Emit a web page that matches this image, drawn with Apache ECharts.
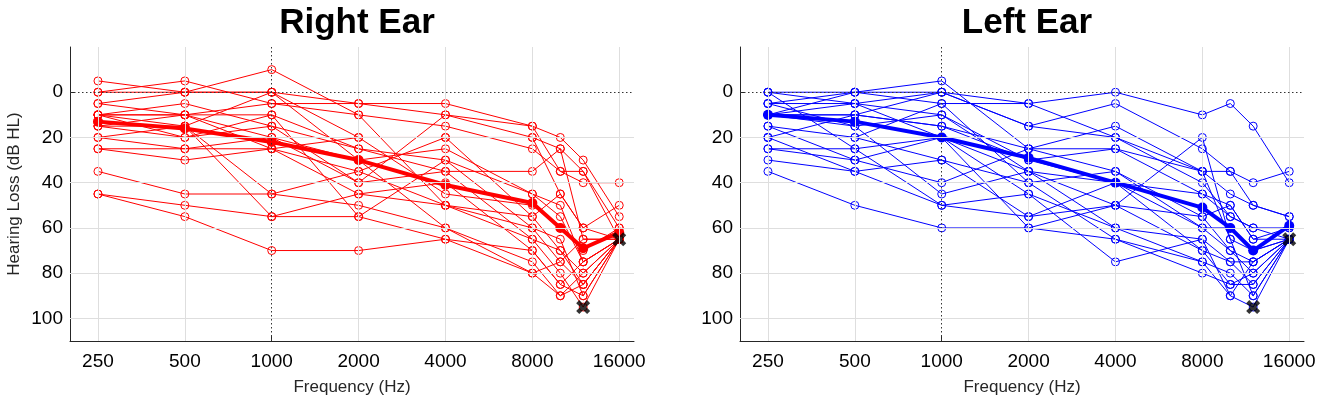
<!DOCTYPE html>
<html>
<head>
<meta charset="utf-8">
<script src="https://cdn.jsdelivr.net/npm/echarts@6/dist/echarts.min.js"></script>
<style>
  html, body { margin: 0; padding: 0; background: #fff; }
  #chart { width: 1325px; height: 405px; }
</style>
</head>
<body>
<div id="chart"></div>
<script>
// test frequencies (Hz) and the octave ticks shown on the axis
var freqs = [250, 500, 1000, 2000, 4000, 8000, 10000, 12000, 16000]
var tickFreqs = [250, 500, 1000, 2000, 4000, 8000, 16000]
var yTicks = [0, 20, 40, 60, 80, 100]

// one row per subject, thresholds in dB HL at each frequency
var rightEar = [
    [-5, 0, 0, 5, 5, 15, 20, 30, 55],
    [0, -5, 5, 5, 10, 20, 25, 35, 60],
    [0, 0, -10, 10, 15, 25, 35, 40, 40],
    [5, 0, 0, 20, 20, 20, 45, 60, 50],
    [10, 10, 10, 25, 35, 35, 25, 65, 65],
    [10, 20, 15, 25, 30, 45, 55, 75, 65],
    [15, 15, 45, 35, 50, 55, 70, 85, 65],
    [10, 15, 55, 45, 50, 60, 65, 90, 65],
    [15, 10, 20, 30, 25, 45, 50, 75, 65],
    [20, 25, 20, 40, 35, 65, 80, 95, 65],
    [25, 30, 25, 45, 40, 70, 85, 90, 65],
    [25, 25, 25, 20, 45, 50, 60, 70, 60],
    [35, 45, 45, 50, 60, 75, 90, 80, 65],
    [45, 50, 55, 55, 65, 80, 75, 85, 65],
    [45, 55, 70, 70, 65, 70, 85, 75, 65],
    [5, 10, 5, 10, 50, 65, 70, 80, 65],
    [10, 10, 25, 35, 20, 55, 45, 60, 65],
    [15, 20, 10, 55, 30, 60, 75, 65, 65],
    [20, 15, 0, 30, 60, 80, 90, 85, 65],
    [10, 5, 15, 40, 10, 15, 35, 35, 65]
]
var leftEar = [
    [0, 0, 5, 5, 0, 10, 5, 15, 40],
    [0, 5, 0, 15, 5, 25, 35, 40, 35],
    [5, 0, -5, 25, 15, 35, 45, 50, 55],
    [10, 10, 0, 15, 20, 40, 55, 60, 65],
    [10, 5, 10, 30, 25, 45, 50, 65, 60],
    [10, 15, 45, 35, 50, 20, 65, 90, 65],
    [15, 30, 40, 25, 35, 55, 70, 75, 65],
    [20, 20, 30, 40, 35, 60, 60, 70, 65],
    [25, 25, 50, 45, 60, 65, 75, 85, 65],
    [30, 35, 30, 55, 50, 70, 85, 80, 65],
    [35, 50, 60, 60, 65, 75, 90, 95, 65],
    [20, 10, 15, 30, 40, 45, 55, 60, 60],
    [5, 15, 10, 35, 40, 60, 70, 80, 65],
    [15, 20, 5, 40, 65, 80, 85, 85, 65],
    [25, 30, 20, 45, 75, 65, 90, 75, 65],
    [10, 10, 15, 25, 25, 35, 65, 70, 65],
    [5, 5, 20, 60, 50, 55, 50, 65, 65],
    [0, 25, 20, 35, 60, 75, 80, 90, 65],
    [20, 35, 50, 55, 40, 70, 75, 75, 65],
    [10, 0, 0, 5, 20, 35, 35, 50, 55]
]

// group mean
var rightMean = [13, 16, 22, 30, 41, 49, 60, 69, 62]
var leftMean = [10, 13, 20, 29, 40, 51, 60, 70, 59]

// black crosses
var crossFreqs = [12000, 16000]
var rightCross = [95, 65]
var leftCross = [95, 65]

var FONT = "'Liberation Sans', Arial, Helvetica, sans-serif"
var crossPath = 'path://M0,2.2L2.2,0L5,2.8L7.8,0L10,2.2L7.2,5L10,7.8L7.8,10L5,7.2L2.2,10L0,7.8L2.8,5Z'

function lx(f) {
    return Math.log2(f / 250)
}

function pairs(vals, fs) {
    var out = []
    for (var i = 0; i < vals.length; i++) out.push([lx(fs[i]), vals[i]])
    return out
}

var panels = [
    { title: 'Right Ear', left: 70, color: '#ff0000', rows: rightEar, mean: rightMean, cross: rightCross, yName: 'Hearing Loss (dB HL)' },
    { title: 'Left Ear', left: 740, color: '#0000ff', rows: leftEar, mean: leftMean, cross: leftCross, yName: '' }
]

var option = {
    animation: false,
    backgroundColor: '#fff',
    textStyle: { fontFamily: FONT },
    title: [],
    grid: [],
    xAxis: [],
    yAxis: [],
    series: []
}

panels.forEach(function(p, k) {
    option.title.push({
        text: p.title,
        left: p.left + 282,
        top: 1,
        textAlign: 'center',
        textStyle: { fontSize: 35, fontWeight: 'bold', color: '#000', fontFamily: FONT }
    })
    option.grid.push({ left: p.left, top: 47, width: 564, height: 294 })
    option.xAxis.push({
        type: 'value',
        gridIndex: k,
        min: lx(200),
        max: lx(18000),
        name: 'Frequency (Hz)',
        nameLocation: 'middle',
        nameGap: 38,
        nameTextStyle: { fontSize: 17, color: '#262626', fontFamily: FONT },
        axisLine: { onZero: false, lineStyle: { color: '#262626', width: 1 } },
        axisTick: { inside: true, length: 5, customValues: tickFreqs.map(lx), lineStyle: { color: '#262626' } },
        axisLabel: {
            customValues: tickFreqs.map(lx),
            fontSize: 19,
            color: '#000',
            margin: 11,
            fontFamily: FONT,
            formatter: function(v) { return String(Math.round(250 * Math.pow(2, v))) }
        },
        splitLine: { show: false }
    })
    option.yAxis.push({
        type: 'value',
        gridIndex: k,
        inverse: true,
        min: -20,
        max: 110,
        name: p.yName,
        nameLocation: 'middle',
        nameGap: 47,
        nameTextStyle: { fontSize: 17, color: '#262626', fontFamily: FONT },
        axisLine: { show: true, onZero: false, lineStyle: { color: '#262626', width: 1 } },
        axisTick: { show: true, inside: true, length: 5, customValues: yTicks, lineStyle: { color: '#262626' } },
        axisLabel: { customValues: yTicks, fontSize: 19, color: '#000', margin: 7, fontFamily: FONT },
        splitLine: { show: false }
    })

    // grid lines drawn as mark lines so 0 dB and 1 kHz can be dotted
    var marks = []
    tickFreqs.forEach(function(f) {
        marks.push(f == 1000 ?
            { xAxis: lx(f), lineStyle: { color: '#333', type: [1.5, 2.5], width: 1 } } :
            { xAxis: lx(f), lineStyle: { color: '#dedede', type: 'solid', width: 1 } })
    })
    yTicks.forEach(function(v) {
        marks.push(v == 0 ?
            { yAxis: v, lineStyle: { color: '#333', type: [1.5, 2.5], width: 1 } } :
            { yAxis: v, lineStyle: { color: '#dedede', type: 'solid', width: 1 } })
    })
    option.series.push({
        type: 'line',
        xAxisIndex: k,
        yAxisIndex: k,
        data: [],
        z: 1,
        silent: true,
        markLine: { symbol: 'none', silent: true, label: { show: false }, data: marks, animation: false }
    })

    p.rows.forEach(function(row) {
        option.series.push({
            type: 'line',
            xAxisIndex: k,
            yAxisIndex: k,
            data: pairs(row, freqs),
            z: 2,
            silent: true,
            symbol: 'circle',
            symbolSize: 8,
            showAllSymbol: true,
            lineStyle: { color: p.color, width: 1 },
            itemStyle: { color: 'rgba(255,255,255,0)', borderColor: p.color, borderWidth: 1 },
            emphasis: { disabled: true }
        })
    })

    option.series.push({
        type: 'line',
        xAxisIndex: k,
        yAxisIndex: k,
        data: pairs(p.mean, freqs),
        z: 3,
        silent: true,
        symbol: 'circle',
        symbolSize: 10,
        lineStyle: { color: p.color, width: 4 },
        itemStyle: { color: p.color, borderWidth: 0 },
        emphasis: { disabled: true }
    })

    option.series.push({
        type: 'scatter',
        xAxisIndex: k,
        yAxisIndex: k,
        data: pairs(p.cross, crossFreqs),
        z: 4,
        silent: true,
        symbol: crossPath,
        symbolSize: 14,
        itemStyle: { color: '#000' }
    })
})

var myChart = echarts.init(document.getElementById('chart'))
myChart.setOption(option)
</script>
</body>
</html>
